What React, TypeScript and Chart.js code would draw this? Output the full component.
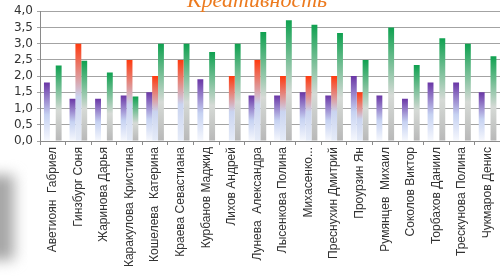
import React, { useEffect, useRef } from "react";
import { Chart, registerables } from "chart.js";

Chart.register(...registerables);

const categories = [
  "Аветиоян  Габриел",
  "Гинзбург Соня",
  "Жаринова Дарья",
  "Каракулова Кристина",
  "Кошелева  Катерина",
  "Краева Севастиана",
  "Курбанов Маджид",
  "Лихов Андрей",
  "Лунева  Александра",
  "Лысенкова Полина",
  "Михасенко...",
  "Преснухин Дмитрий",
  "Проурзин Ян",
  "Румянцев  Михаил",
  "Соколов Виктор",
  "Торбахов Даниил",
  "Трескунова Полина",
  "Чукмаров Денис",
];

const purpleValues = [1.8, 1.3, 1.3, 1.4, 1.5, null, 1.9, null, 1.4, 1.4, 1.5, 1.4, 2.0, 1.4, 1.3, 1.8, 1.8, 1.5];
const redValues = [null, 3.0, null, 2.5, 2.0, 2.5, null, 2.0, 2.5, 2.0, 2.0, 2.0, 1.5, null, null, null, null, null];
const greenValues = [2.33, 2.47, 2.11, 1.37, 3.0, 3.0, 2.74, 3.0, 3.36, 3.72, 3.58, 3.33, 2.5, 3.5, 2.34, 3.17, 3.0, 2.61];

const yTicks = [0, 0.5, 1, 1.5, 2, 2.5, 3, 3.5, 4];
const titleText = "Креативность";

type Stop = [number, string];

const purpleStops: Stop[] = [
  [0, "#6a36a6"],
  [0.55, "#c6d2f2"],
  [1, "#f6f8fd"],
];
const redStops: Stop[] = [
  [0, "#ff3a0e"],
  [0.55, "#cad4f0"],
  [1, "#e6ecf8"],
];
const greenStops: Stop[] = [
  [0, "#0fa150"],
  [0.6, "#d6dad6"],
  [1, "#b8b8b8"],
];

function gradientFill(stops: Stop[]) {
  return (ctx: any) => {
    const chart = ctx.chart;
    const area = chart.chartArea;
    if (!area || ctx.type !== "data" || ctx.raw == null) return stops[0][1];
    const y = chart.scales.y;
    const top = y.getPixelForValue(ctx.raw);
    const bot = y.getPixelForValue(0);
    if (!isFinite(top) || !isFinite(bot) || bot - top < 1) return stops[0][1];
    const g = chart.ctx.createLinearGradient(0, top, 0, bot);
    stops.forEach(([o, c]) => g.addColorStop(o, c));
    return g;
  };
}

const titlePlugin = {
  id: "titleDraw",
  afterDraw(chart: any) {
    const c = chart.ctx;
    c.save();
    c.font = "italic 22px 'Liberation Serif', serif";
    c.fillStyle = "#ec7a1e";
    c.textAlign = "center";
    c.textBaseline = "alphabetic";
    c.fillText(titleText, 257, 7);
    c.restore();
  },
};

export default function App() {
  const ref = useRef<HTMLCanvasElement | null>(null);

  useEffect(() => {
    if (!ref.current) return;
    const chart = new Chart(ref.current, {
      type: "bar",
      data: {
        labels: categories,
        datasets: [
          { label: "p", data: purpleValues, backgroundColor: gradientFill(purpleStops) },
          { label: "r", data: redValues, backgroundColor: gradientFill(redStops) },
          { label: "g", data: greenValues, backgroundColor: gradientFill(greenStops) },
        ],
      },
      options: {
        animation: false,
        responsive: false,
        maintainAspectRatio: false,
        layout: { padding: { top: 10, right: 1, left: 0, bottom: 0 } },
        datasets: {
          bar: { categoryPercentage: 0.69, barPercentage: 1.0, borderWidth: 0 },
        },
        plugins: {
          legend: { display: false },
          tooltip: { enabled: false },
          title: { display: false },
        },
        scales: {
          x: {
            grid: {
              display: true,
              drawOnChartArea: false,
              drawTicks: true,
              tickLength: 4,
              color: "#8a8a8a",
              offset: true,
            },
            border: { color: "#8a8a8a" },
            ticks: {
              autoSkip: false,
              maxRotation: 90,
              minRotation: 90,
              padding: 2,
              color: "#333333",
              font: { family: "'Liberation Sans', Arial, sans-serif", size: 12 },
            },
            afterFit(scale: any) {
              scale.height = 139;
            },
          },
          y: {
            min: 0,
            max: 4,
            afterBuildTicks(scale: any) {
              scale.ticks = yTicks.map((v) => ({ value: v }));
            },
            grid: {
              color: "#a3a3a3",
              tickLength: 3,
              drawTicks: true,
            },
            border: { color: "#8a8a8a" },
            ticks: {
              autoSkip: false,
              color: "#333333",
              padding: 4,
              font: { family: "'DejaVu Sans', sans-serif", size: 12 },
              callback: (v: any) => Number(v).toFixed(1).replace(".", ","),
            },
            afterFit(scale: any) {
              scale.width = 40;
            },
          },
        },
      },
      plugins: [titlePlugin],
    });
    return () => chart.destroy();
  }, []);

  return (
    <div style={{ position: "fixed", left: 0, top: 0, width: 500, height: 280, overflow: "hidden", background: "#fff" }}>
      <div
        style={{
          position: "absolute",
          left: -14,
          top: 175,
          width: 28,
          height: 85,
          background: "#a6a6a6",
          filter: "blur(7px)",
        }}
      />
      <canvas ref={ref} width={504} height={280} style={{ position: "absolute", left: 0, top: 0, width: 504, height: 280 }} />
    </div>
  );
}
